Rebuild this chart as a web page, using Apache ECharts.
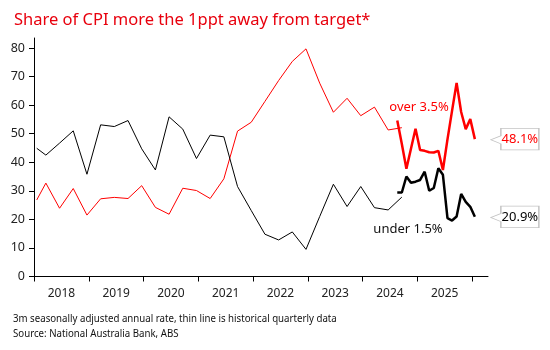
<!DOCTYPE html>
<html>
<head>
<meta charset="utf-8">
<script src="https://cdn.jsdelivr.net/npm/echarts@6/dist/echarts.min.js"></script>
<style>
  html, body { margin: 0; padding: 0; background: #fff; }
  #chart { width: 550px; height: 350px; }
</style>
</head>
<body>
<div id="chart"></div>
<script>
// historical quarterly data (thin lines)
const qDates = ['2018-01', '2018-03', '2018-06', '2018-09', '2018-12', '2019-03', '2019-06', '2019-09', '2019-12',
  '2020-03', '2020-06', '2020-09', '2020-12', '2021-03', '2021-06', '2021-09', '2021-12', '2022-03', '2022-06',
  '2022-09', '2022-12', '2023-03', '2023-06', '2023-09', '2023-12', '2024-03', '2024-06', '2024-09'];
const qOver = [26.8, 32.7, 23.9, 30.8, 21.5, 27.2, 27.7, 27.3, 31.8, 24.2, 21.8, 30.9, 30.1, 27.3, 34.2, 50.9,
  54.0, 61.3, 68.6, 75.3, 79.7, 67.7, 57.5, 62.4, 56.3, 59.3, 51.3, 52.1];
const qUnder = [44.9, 42.5, 46.7, 51.0, 35.8, 53.1, 52.5, 54.6, 44.7, 37.3, 55.9, 51.6, 41.3, 49.5, 48.9, 31.5,
  23.1, 14.8, 12.8, 15.6, 9.5, 21.0, 32.3, 24.5, 31.5, 24.1, 23.3, 27.8];

// monthly 3m seasonally adjusted (thick lines)
const mDates = ['2024-08', '2024-09', '2024-10', '2024-11', '2024-12', '2025-01', '2025-02', '2025-03', '2025-04',
  '2025-05', '2025-06', '2025-07', '2025-08', '2025-09', '2025-10', '2025-11', '2025-12', '2026-01'];
const mOver = [54.6, 46.4, 37.7, 44.7, 51.7, 44.3, 44.0, 43.5, 43.4, 44.0, 37.3, 48.0, 58.0, 67.8, 57.6, 51.6, 55.1, 48.1];
const mUnder = [29.4, 29.4, 35.0, 32.8, 33.2, 33.8, 36.7, 30.0, 31.0, 37.9, 35.6, 20.4, 19.6, 21.0, 28.9, 26.1, 24.4, 20.9];

const yearLabels = ['2018', '2019', '2020', '2021', '2022', '2023', '2024', '2025'];
const yearTicks = [2018, 2019, 2020, 2021, 2022, 2023, 2024, 2025, 2026];
const yTicks = [0, 10, 20, 30, 40, 50, 60, 70, 80];

const RED = '#ff0000';
const BLACK = '#000000';
const FONT = 'Noto Sans';

function toYear(s) {
  const [y, m] = s.split('-').map(Number);
  return y + (m - 0.4) / 12;
}
const pairs = (dates, vals) => dates.map((d, i) => [toYear(d), vals[i]]);

// callout box with a notch pointing left at the last value
const callout = 'path://M0,11.5L10,7.5L10,0L48,0L48,21.5L10,21.5L10,15.5Z';
function endCallout(dates, vals, color) {
  const last = vals.length - 1;
  return {
    silent: true,
    symbol: callout,
    symbolSize: [48, 21.5],
    symbolOffset: [40, 0],
    itemStyle: { color: '#fff', borderColor: '#c4c4c4', borderWidth: 1 },
    label: {
      show: true, position: 'inside', offset: [5, 0],
      color: color, fontFamily: FONT, fontSize: 13,
      formatter: p => p.value.toFixed(1) + '%'
    },
    data: [{ coord: [toYear(dates[last]), vals[last]], value: vals[last] }]
  };
}

const chart = echarts.init(document.getElementById('chart'), null, { renderer: 'canvas' });

chart.setOption({
  animation: false,
  backgroundColor: '#fff',
  title: {
    text: 'Share of CPI more the 1ppt away from target*',
    left: 9, top: 7,
    textStyle: { color: '#e8000d', fontFamily: FONT, fontSize: 16.5, fontWeight: 'normal' }
  },
  grid: { left: 34, right: 62, top: 38, bottom: 73.5, containLabel: false },
  xAxis: {
    type: 'value', min: 2018, max: 2026.29,
    axisLine: { lineStyle: { color: BLACK, width: 1 } },
    axisTick: { customValues: yearTicks, length: 5, lineStyle: { color: BLACK } },
    axisLabel: {
      customValues: yearLabels.map(y => Number(y) + 0.5),
      formatter: v => String(Math.floor(v)),
      margin: 11, color: '#222', fontFamily: FONT, fontSize: 12
    },
    splitLine: { show: false }
  },
  yAxis: {
    type: 'value', min: 0, max: 83.5,
    axisLine: { show: true, lineStyle: { color: BLACK, width: 1 } },
    axisTick: { show: true, customValues: yTicks, length: 5, lineStyle: { color: BLACK } },
    axisLabel: { customValues: yTicks, margin: 9, color: '#222', fontFamily: FONT, fontSize: 12.5 },
    splitLine: { show: false }
  },
  series: [
    { type: 'line', name: 'over quarterly', data: pairs(qDates, qOver), showSymbol: false,
      lineStyle: { color: RED, width: 1 }, itemStyle: { color: RED } },
    { type: 'line', name: 'under quarterly', data: pairs(qDates, qUnder), showSymbol: false,
      lineStyle: { color: BLACK, width: 1 }, itemStyle: { color: BLACK } },
    { type: 'line', name: 'over 3.5%', data: pairs(mDates, mOver), showSymbol: false,
      lineStyle: { color: RED, width: 2.5 }, itemStyle: { color: RED },
      markPoint: endCallout(mDates, mOver, RED) },
    { type: 'line', name: 'under 1.5%', data: pairs(mDates, mUnder), showSymbol: false,
      lineStyle: { color: BLACK, width: 2.5 }, itemStyle: { color: BLACK },
      markPoint: endCallout(mDates, mUnder, BLACK) }
  ],
  graphic: [
    { type: 'text', x: 419, y: 107, style: { text: 'over 3.5%', fill: RED, font: '13px "Noto Sans"', align: 'center', verticalAlign: 'middle' } },
    { type: 'text', x: 408, y: 229, style: { text: 'under 1.5%', fill: '#111', font: '13px "Noto Sans"', align: 'center', verticalAlign: 'middle' } },
    { type: 'text', x: 13, y: 319, scaleX: 0.88, style: { text: '3m seasonally adjusted annual rate, thin line is historical quarterly data', fill: '#111', font: '11px "Noto Sans"', verticalAlign: 'middle' } },
    { type: 'text', x: 13, y: 334, scaleX: 0.88, style: { text: 'Source: National Australia Bank, ABS', fill: '#111', font: '11px "Noto Sans"', verticalAlign: 'middle' } }
  ]
});
</script>
</body>
</html>
